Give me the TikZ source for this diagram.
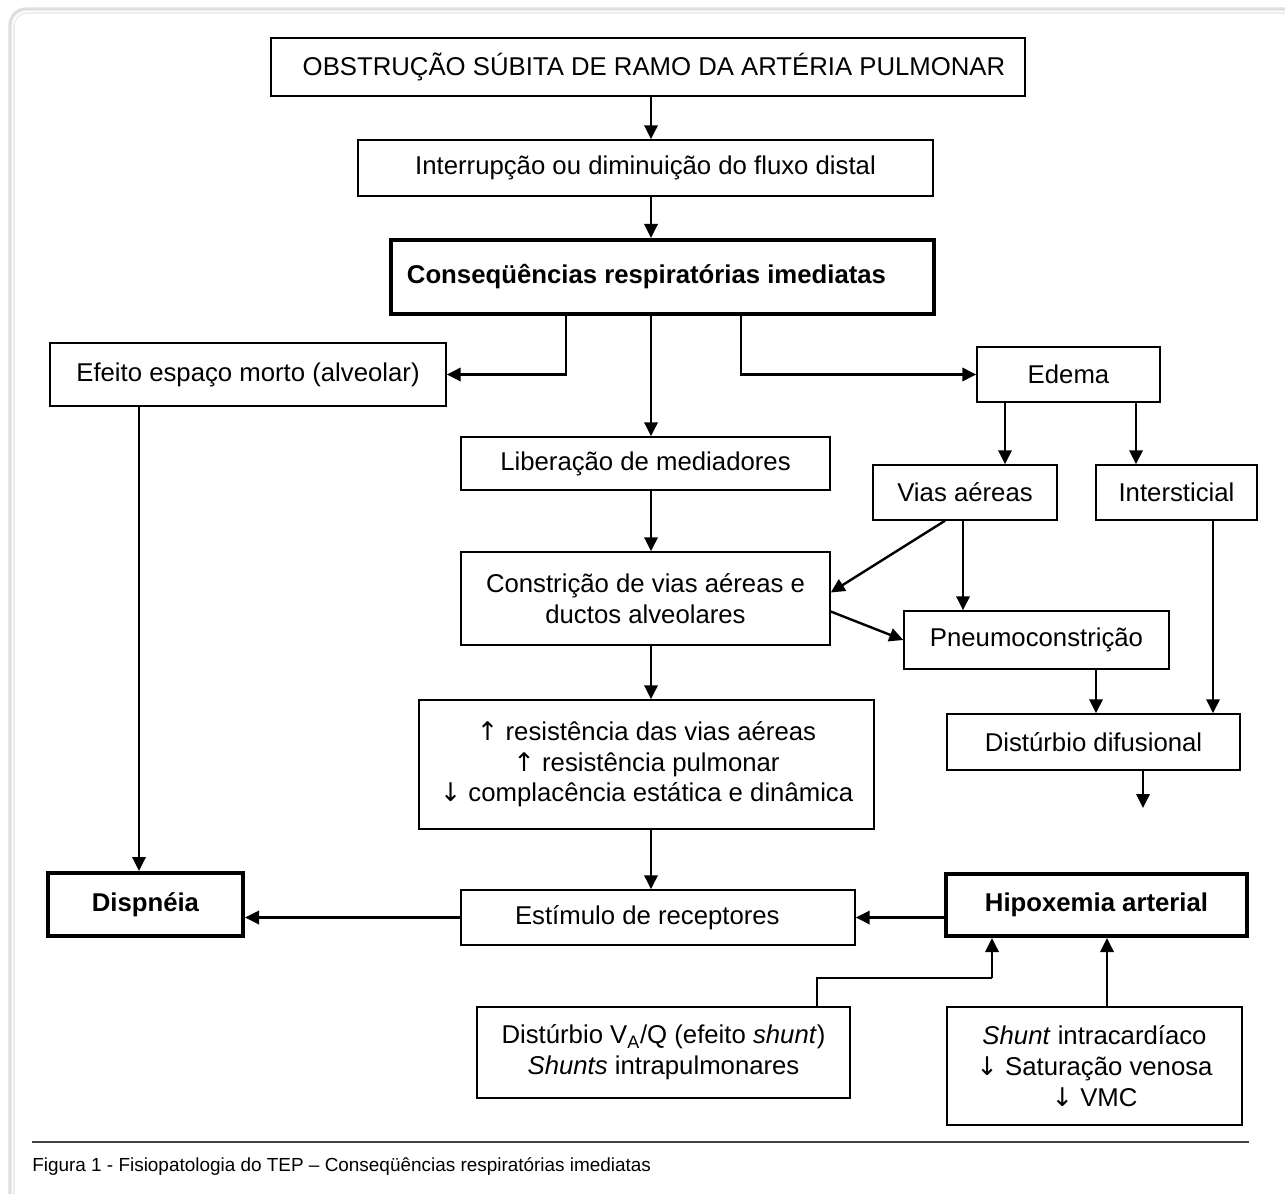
\documentclass[tikz,border=0pt]{standalone}
\usepackage{fontspec}
\setmainfont{Liberation Sans}
\newfontfamily\arrowfont{DejaVu Sans}
\usetikzlibrary{arrows.meta,calc}
\newcommand{\upar}{{\arrowfont ↑}}
\newcommand{\dnar}{{\arrowfont ↓}}
\begin{document}
\begin{tikzpicture}[x=0.75pt,y=-0.75pt,
  box/.style={draw, line width=1.1pt, align=center, inner sep=0pt,
    font=\fontsize{19.3}{23}\selectfont},
  thickbox/.style={box, line width=3pt,
    append after command={\pgfextra{\let\tmpn\tikzlastnode}
      [draw, line width=0.6pt]
      ([shift={(4,4)}]\tmpn.north west) rectangle ([shift={(-4,-4)}]\tmpn.south east)}},
  arr/.style={line width=1.8pt, -{Triangle[length=10.5pt,width=10pt]}},
  thinconn/.style={line width=0.9pt}]
\useasboundingbox (0,0) rectangle (1285,1194);
\clip (0,0) rectangle (1285,1194);
\fill[white] (0,0) rectangle (1285,1194);
% frame
\draw[black!13, line width=2.4pt, rounded corners=12] (10,9) rectangle (1320,1240);
\draw[black!7, line width=1.2pt, rounded corners=10] (14,13) rectangle (1316,1236);

% nodes
\node[box, minimum width=754*0.75pt, minimum height=58*0.75pt] (obs) at (648,67) {\hspace*{9pt}OBSTRUÇÃO SÚBITA DE RAMO DA ARTÉRIA PULMONAR};
\node[box, minimum width=575*0.75pt, minimum height=56*0.75pt] (intr) at (645.5,168) {Interrupção ou diminuição do fluxo distal};
\node[thickbox, minimum width=543*0.75pt, minimum height=74*0.75pt] (cons) at (662.5,277) {\textbf{Conseqüências respiratórias imediatas}\hspace*{24pt}};
\node[box, minimum width=396*0.75pt, minimum height=63*0.75pt] (efe) at (248,374.5) {Efeito espaço morto (alveolar)};
\node[box, minimum width=183*0.75pt, minimum height=55*0.75pt] (edema) at (1068.5,374.5) {Edema};
\node[box, minimum width=369*0.75pt, minimum height=53*0.75pt] (lib) at (645.5,463.5) {Liberação de mediadores};
\node[box, minimum width=184*0.75pt, minimum height=55*0.75pt] (vias) at (965,492.5) {Vias aéreas};
\node[box, minimum width=161*0.75pt, minimum height=55*0.75pt] (inter) at (1176.5,492.5) {Intersticial};
\node[box, minimum width=369*0.75pt, minimum height=93*0.75pt] (cons2) at (645.5,598.5) {Constrição de vias aéreas e\\ductos alveolares};
\node[box, minimum width=265*0.75pt, minimum height=58*0.75pt] (pneu) at (1036.5,640) {Pneumoconstrição};
\node[box, minimum width=455*0.75pt, minimum height=129*0.75pt] (res) at (646.5,764.5) {\upar{} resistência das vias aéreas\\\upar{} resistência pulmonar\\\dnar{} complacência estática e dinâmica};
\node[box, minimum width=293*0.75pt, minimum height=56*0.75pt] (dif) at (1093.5,742) {Distúrbio difusional};
\node[thickbox, minimum width=195*0.75pt, minimum height=63*0.75pt] (disp) at (145.5,904.5) {\textbf{Dispnéia}};
\node[box, minimum width=394*0.75pt, minimum height=55*0.75pt] (est) at (658,917.5) {Estímulo de receptores\hspace*{16pt}};
\node[thickbox, minimum width=301*0.75pt, minimum height=62*0.75pt] (hip) at (1096.5,905) {\textbf{Hipoxemia arterial}};
\node[box, minimum width=373*0.75pt, minimum height=91*0.75pt] (vaq) at (663.5,1052.5) {Distúrbio V\textsubscript{A}/Q (efeito \textit{shunt})\\\textit{Shunts} intrapulmonares};
\node[box, minimum width=295*0.75pt, minimum height=118*0.75pt] (shunt) at (1094.5,1066) {\textit{Shunt} intracardíaco\\\dnar{} Saturação venosa\\\dnar{} VMC};

% helper coordinates
\coordinate (mc) at (651,0);
\coordinate (bl) at (566,376);
\coordinate (br) at (741,376);
\coordinate (ex) at (139,0);
\coordinate (e1) at (1005,0);
\coordinate (e2) at (1136,0);
\coordinate (d1) at (945,0);
\coordinate (v2) at (963,0);
\coordinate (ix) at (1213,0);
\coordinate (px) at (1096,0);
\coordinate (dx) at (1143,0);
\coordinate (dend) at (1143,808);
\coordinate (kx) at (817,0);
\coordinate (k) at (992,978);
\coordinate (sx) at (1107,0);

% connectors
\draw[arr] (obs.south -| mc) -- (intr.north -| mc);
\draw[arr] (intr.south -| mc) -- (cons.north -| mc);
\draw[arr] (cons.south -| mc) -- (lib.north -| mc);
\draw[arr] (cons.south -| bl) |- (efe.east);
\draw[arr] (cons.south -| br) |- (edema.west);
\draw[arr] (efe.south -| ex) -- (disp.north -| ex);
\draw[arr] (edema.south -| e1) -- (vias.north -| e1);
\draw[arr] (edema.south -| e2) -- (inter.north -| e2);
\draw[arr] (lib.south -| mc) -- (cons2.north -| mc);
\draw[arr] (vias.south -| d1) -- ($(cons2.east)+(0,-6)$);
\draw[arr] (vias.south -| v2) -- (pneu.north -| v2);
\draw[arr] ($(cons2.east)+(0,13)$) -- (pneu.west);
\draw[arr] (inter.south -| ix) -- (dif.north -| ix);
\draw[arr] (pneu.south -| px) -- (dif.north -| px);
\draw[arr] (dif.south -| dx) -- (dend);
\draw[arr] (cons2.south -| mc) -- (res.north -| mc);
\draw[arr] (res.south -| mc) -- (est.north -| mc);
\draw[arr] (est.west) -- (disp.east |- est.west);
\draw[arr] (hip.west |- est.east) -- (est.east);
\draw[thinconn] (vaq.north -| kx) |- (k);
\draw[arr] (k) -- (hip.south -| k);
\draw[arr] (shunt.north -| sx) -- (hip.south -| sx);

% caption
\draw[black!75, line width=0.8pt] (32,1142) -- (1249,1142);
\node[anchor=west, inner sep=0pt, font=\fontsize{14.2}{17}\selectfont] (cap) at (32,1166) {Figura 1 - Fisiopatologia do TEP – Conseqüências respiratórias imediatas};
\end{tikzpicture}
\end{document}
